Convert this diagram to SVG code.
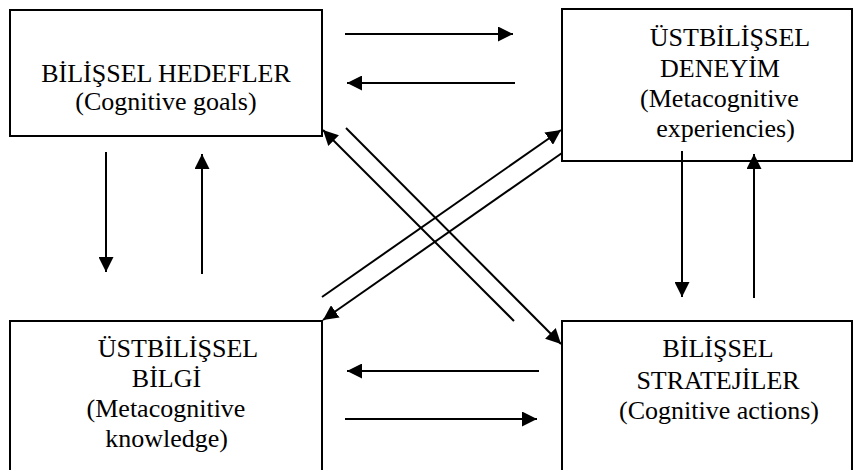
<svg xmlns="http://www.w3.org/2000/svg" width="863" height="470" viewBox="0 0 863 470">
<style>
.box{fill:#fff;stroke:#000;stroke-width:2}
.c{stroke:#000;stroke-width:2;fill:none;marker-end:url(#ah)}
</style>
<defs>
<marker id="ah" markerUnits="userSpaceOnUse" markerWidth="16" markerHeight="15" refX="15" refY="7.5" orient="auto">
<path d="M0,0 L15,7.5 L0,15 z" fill="#000"/>
</marker>
</defs>
<rect width="863" height="470" fill="#fff"/>
<g font-family="Liberation Serif, Tinos, Times New Roman, DejaVu Serif, serif" font-size="26" text-anchor="middle" fill="#000">
<g id="n1">
<rect class="box" x="10" y="10" width="312" height="126"/>
<text x="166" y="82">BİLİŞSEL HEDEFLER</text>
<text x="166" y="110">(Cognitive goals)</text>
</g>
<g id="n2">
<rect class="box" x="562" y="9" width="290" height="152"/>
<text x="730" y="46">ÜSTBİLİŞSEL</text>
<text x="720" y="77">DENEYİM</text>
<text x="719.5" y="107">(Metacognitive</text>
<text x="725.5" y="137">experiencies)</text>
</g>
<g id="n3">
<rect class="box" x="10" y="321" width="312" height="160"/>
<text x="178" y="357">ÜSTBİLİŞSEL</text>
<text x="166.5" y="387">BİLGİ</text>
<text x="166" y="417">(Metacognitive</text>
<text x="166.5" y="447">knowledge)</text>
</g>
<g id="n4">
<rect class="box" x="562" y="321" width="290" height="160"/>
<text x="718" y="357">BİLİŞSEL</text>
<text x="718" y="389">STRATEJİLER</text>
<text x="719" y="419">(Cognitive actions)</text>
</g>
</g>
<g id="connectors">
<line class="c" x1="345" y1="34" x2="513" y2="34"/>
<line class="c" x1="515" y1="83" x2="347" y2="83"/>
<line class="c" x1="539" y1="371" x2="347" y2="371"/>
<line class="c" x1="345" y1="419" x2="537" y2="419"/>
<line class="c" x1="106" y1="152" x2="106" y2="272"/>
<line class="c" x1="202" y1="274" x2="202" y2="154"/>
<line class="c" x1="682" y1="151" x2="682" y2="297"/>
<line class="c" x1="754" y1="298" x2="754" y2="154"/>
<line class="c" x1="514" y1="321" x2="323" y2="130"/>
<line class="c" x1="346" y1="128" x2="561" y2="344"/>
<line class="c" x1="322" y1="297" x2="561" y2="130"/>
<line class="c" x1="562" y1="153" x2="323" y2="320"/>
</g>
</svg>
